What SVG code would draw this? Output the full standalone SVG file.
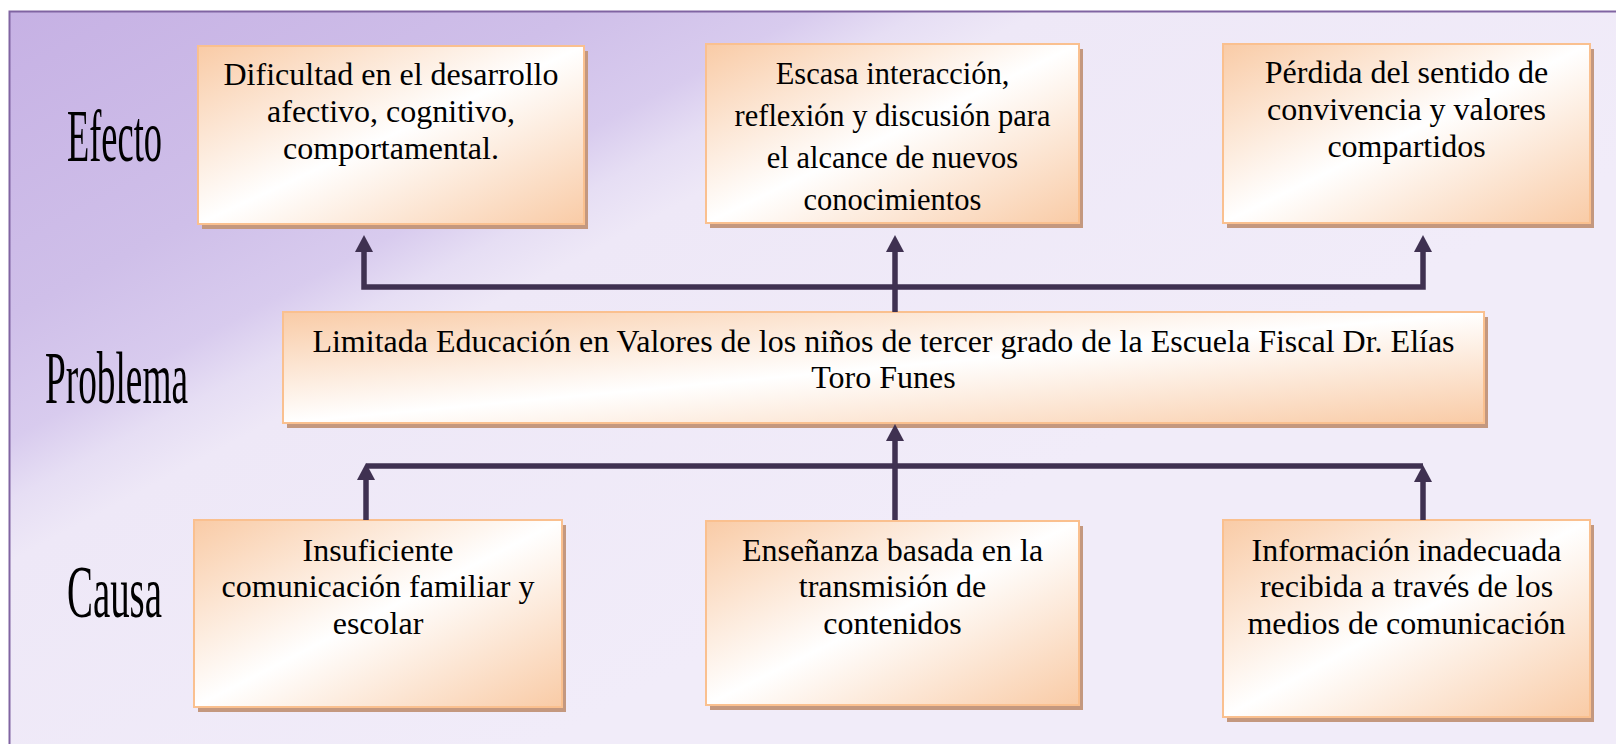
<svg xmlns="http://www.w3.org/2000/svg" width="1616" height="744" viewBox="0 0 1616 744">
  <style>
    .box { fill: url(#boxGrad); stroke: #FAC08F; stroke-width: 2; }
    .shadow { fill: #C4987F; }
    .t { font-family: "Liberation Serif", "Times New Roman", serif; font-size: 32px; fill: #000; text-anchor: middle; }
    .lbl { font-family: "Liberation Serif", "Times New Roman", serif; font-size: 74px; fill: #000; }
    .conn { fill: none; stroke: #3F3151; stroke-width: 5.5; stroke-linejoin: miter; }
  </style>
  <defs>
    <linearGradient id="bgGrad" gradientUnits="userSpaceOnUse" x1="9" y1="11" x2="433" y2="805">
      <stop offset="0" stop-color="#C6B1E4"/>
      <stop offset="0.3" stop-color="#CFBFE9"/>
      <stop offset="0.42" stop-color="#D8CBEE"/>
      <stop offset="0.48" stop-color="#E6DEF4"/>
      <stop offset="0.54" stop-color="#EEE8F7"/>
      <stop offset="1" stop-color="#F1ECF9"/>
    </linearGradient>
    <linearGradient id="boxGrad" x1="0" y1="0" x2="1" y2="1">
      <stop offset="0" stop-color="#F9CBA6"/>
      <stop offset="0.5" stop-color="#FFFFFF"/>
      <stop offset="1" stop-color="#F9CBA6"/>
    </linearGradient>
    <marker id="arrow" markerUnits="userSpaceOnUse" markerWidth="18" markerHeight="18" viewBox="0 0 17 18" refX="7" refY="9" orient="auto-start-reverse">
      <path d="M0,0 L17,9 L0,18 z" fill="#3F3151"/>
    </marker>
  </defs>

  <rect x="0" y="0" width="1616" height="744" fill="#FFFFFF"/>
  <rect id="frame" x="9.5" y="11.5" width="1620" height="750" fill="url(#bgGrad)" stroke="#8064A2" stroke-width="2"/>

  <g id="label-efecto">
    <text class="lbl" x="67" y="161" textLength="95" lengthAdjust="spacingAndGlyphs">Efecto</text>
  </g>
  <g id="label-problema">
    <text class="lbl" x="45" y="403" textLength="143" lengthAdjust="spacingAndGlyphs">Problema</text>
  </g>
  <g id="label-causa">
    <text class="lbl" x="67" y="617" textLength="95" lengthAdjust="spacingAndGlyphs">Causa</text>
  </g>

  <g id="efecto1">
    <rect class="shadow" x="202" y="51" width="386" height="178"/>
    <rect class="box" x="198" y="46" width="386" height="178"/>
    <text class="t" x="391" y="85">Dificultad en el desarrollo</text>
    <text class="t" x="391" y="122">afectivo, cognitivo,</text>
    <text class="t" x="391" y="159">comportamental.</text>
  </g>

  <g id="efecto2">
    <rect class="shadow" x="710" y="49" width="373" height="179"/>
    <rect class="box" x="706" y="44" width="373" height="179"/>
    <text class="t" x="892.5" y="84" style="font-size:30.5px">Escasa interacción,</text>
    <text class="t" x="892.5" y="126" style="font-size:30.5px">reflexión y discusión para</text>
    <text class="t" x="892.5" y="168" style="font-size:30.5px">el alcance de nuevos</text>
    <text class="t" x="892.5" y="210" style="font-size:30.5px">conocimientos</text>
  </g>

  <g id="efecto3">
    <rect class="shadow" x="1227" y="49" width="367" height="179"/>
    <rect class="box" x="1223" y="44" width="367" height="179"/>
    <text class="t" x="1406.5" y="83">Pérdida del sentido de</text>
    <text class="t" x="1406.5" y="120">convivencia y valores</text>
    <text class="t" x="1406.5" y="157">compartidos</text>
  </g>

  <g id="problema">
    <rect class="shadow" x="287" y="317" width="1201" height="111"/>
    <rect class="box" x="283" y="312" width="1201" height="111"/>
    <text class="t" x="883.5" y="352">Limitada Educación en Valores de los niños de tercer grado de la Escuela Fiscal Dr. Elías</text>
    <text class="t" x="883.5" y="388">Toro Funes</text>
  </g>

  <g id="causa1">
    <rect class="shadow" x="198" y="525" width="368" height="187"/>
    <rect class="box" x="194" y="520" width="368" height="187"/>
    <text class="t" x="378" y="561">Insuficiente</text>
    <text class="t" x="378" y="597">comunicación familiar y</text>
    <text class="t" x="378" y="634">escolar</text>
  </g>

  <g id="causa2">
    <rect class="shadow" x="710" y="526" width="373" height="184"/>
    <rect class="box" x="706" y="521" width="373" height="184"/>
    <text class="t" x="892.5" y="561">Enseñanza basada en la</text>
    <text class="t" x="892.5" y="597">transmisión de</text>
    <text class="t" x="892.5" y="634">contenidos</text>
  </g>

  <g id="causa3">
    <rect class="shadow" x="1227" y="525" width="367" height="197"/>
    <rect class="box" x="1223" y="520" width="367" height="197"/>
    <text class="t" x="1406.5" y="561">Información inadecuada</text>
    <text class="t" x="1406.5" y="597">recibida a través de los</text>
    <text class="t" x="1406.5" y="634">medios de comunicación</text>
  </g>

  <g id="connectors">
    <path class="conn" d="M364,245 V287 H1423 V245" marker-start="url(#arrow)" marker-end="url(#arrow)"/>
    <path class="conn" d="M895,312 V245" marker-end="url(#arrow)"/>
    <path class="conn" d="M366,466 H1423"/>
    <path class="conn" d="M366,520 V473" marker-end="url(#arrow)"/>
    <path class="conn" d="M1423,520 V475" marker-end="url(#arrow)"/>
    <path class="conn" d="M895,520 V434" marker-end="url(#arrow)"/>
  </g>
</svg>
